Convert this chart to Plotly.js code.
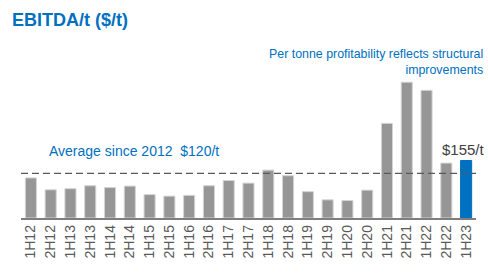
<!DOCTYPE html>
<html>
<head>
<meta charset="utf-8">
<script src="https://cdn.plot.ly/plotly-3.0.1.min.js"></script>
<style>html,body{margin:0;padding:0;background:#fff;}#chart{width:488px;height:273px;}</style>
</head>
<body>
<div id="chart"></div>
<script>
var periods = ["1H12","2H12","1H13","2H13","1H14","2H14","1H15","2H15","1H16","2H16","1H17","2H17","1H18","2H18","1H19","2H19","1H20","2H20","1H21","2H21","1H22","2H22","1H23"];
var ebitdaPerTonne = [108,76,79,87,82,86,63,59,61,87,101,94,129,114,71,49,47,75,255,366,344,148,155];
var averageSince2012 = 120;
var latestLabel = "$155/t";

var gray = "#969696", blue = "#0070C0";
var colors = periods.map(function(p, i){ return i === periods.length - 1 ? blue : gray; });
var lineColors = periods.map(function(p, i){ return i === periods.length - 1 ? blue : "#d4d4d4"; });

var trace = {
  type: "bar",
  x: periods,
  y: ebitdaPerTonne,
  marker: {color: colors, line: {color: lineColors, width: 1}},
  hoverinfo: "x+y"
};

var font = "Liberation Sans, Arial, sans-serif";
var layout = {
  width: 488, height: 273,
  margin: {l: 21, r: 12, t: 77, b: 55},
  paper_bgcolor: "#fff", plot_bgcolor: "#fff",
  showlegend: false,
  bargap: 0.44,
  title: {
    text: "<b>EBITDA/t ($/t)</b>",
    font: {family: font, size: 18, color: blue},
    x: 12/488, xref: "container", xanchor: "left",
    y: 1 - 13/273, yref: "container", yanchor: "top"
  },
  xaxis: {
    type: "category",
    tickangle: -90,
    tickfont: {family: font, size: 14, color: "#595959"},
    showline: true, linecolor: "#7f7f7f", linewidth: 1.5,
    ticks: "", showgrid: false, zeroline: false,
    range: [-0.5, periods.length - 0.5], fixedrange: true
  },
  yaxis: {visible: false, range: [0, 380], showgrid: false, zeroline: false, fixedrange: true},
  shapes: [{
    type: "line", xref: "paper", x0: 0, x1: 1, yref: "y", y0: averageSince2012, y1: averageSince2012,
    line: {color: "#595959", width: 1.3, dash: "7px,4px"}
  }],
  annotations: [
    {
      text: "Per tonne profitability reflects structural<br>improvements",
      xref: "paper", x: (485 - 21)/455, xanchor: "right", align: "right",
      yref: "paper", y: (218 - 62)/141, yanchor: "middle",
      showarrow: false, font: {family: font, size: 12.4, color: blue}
    },
    {
      text: "Average since 2012  $" + averageSince2012 + "/t",
      xref: "paper", x: (134 - 21)/455, xanchor: "center",
      yref: "y", y: 180, yanchor: "middle",
      showarrow: false, font: {family: font, size: 14, color: blue}
    },
    {
      text: latestLabel,
      xref: "paper", x: (487 - 21)/455, xanchor: "right",
      yref: "y", y: 185, yanchor: "middle",
      showarrow: false, font: {family: font, size: 15, color: "#404040"}
    }
  ]
};

Plotly.newPlot("chart", [trace], layout, {displayModeBar: false, staticPlot: true});
</script>
</body>
</html>
